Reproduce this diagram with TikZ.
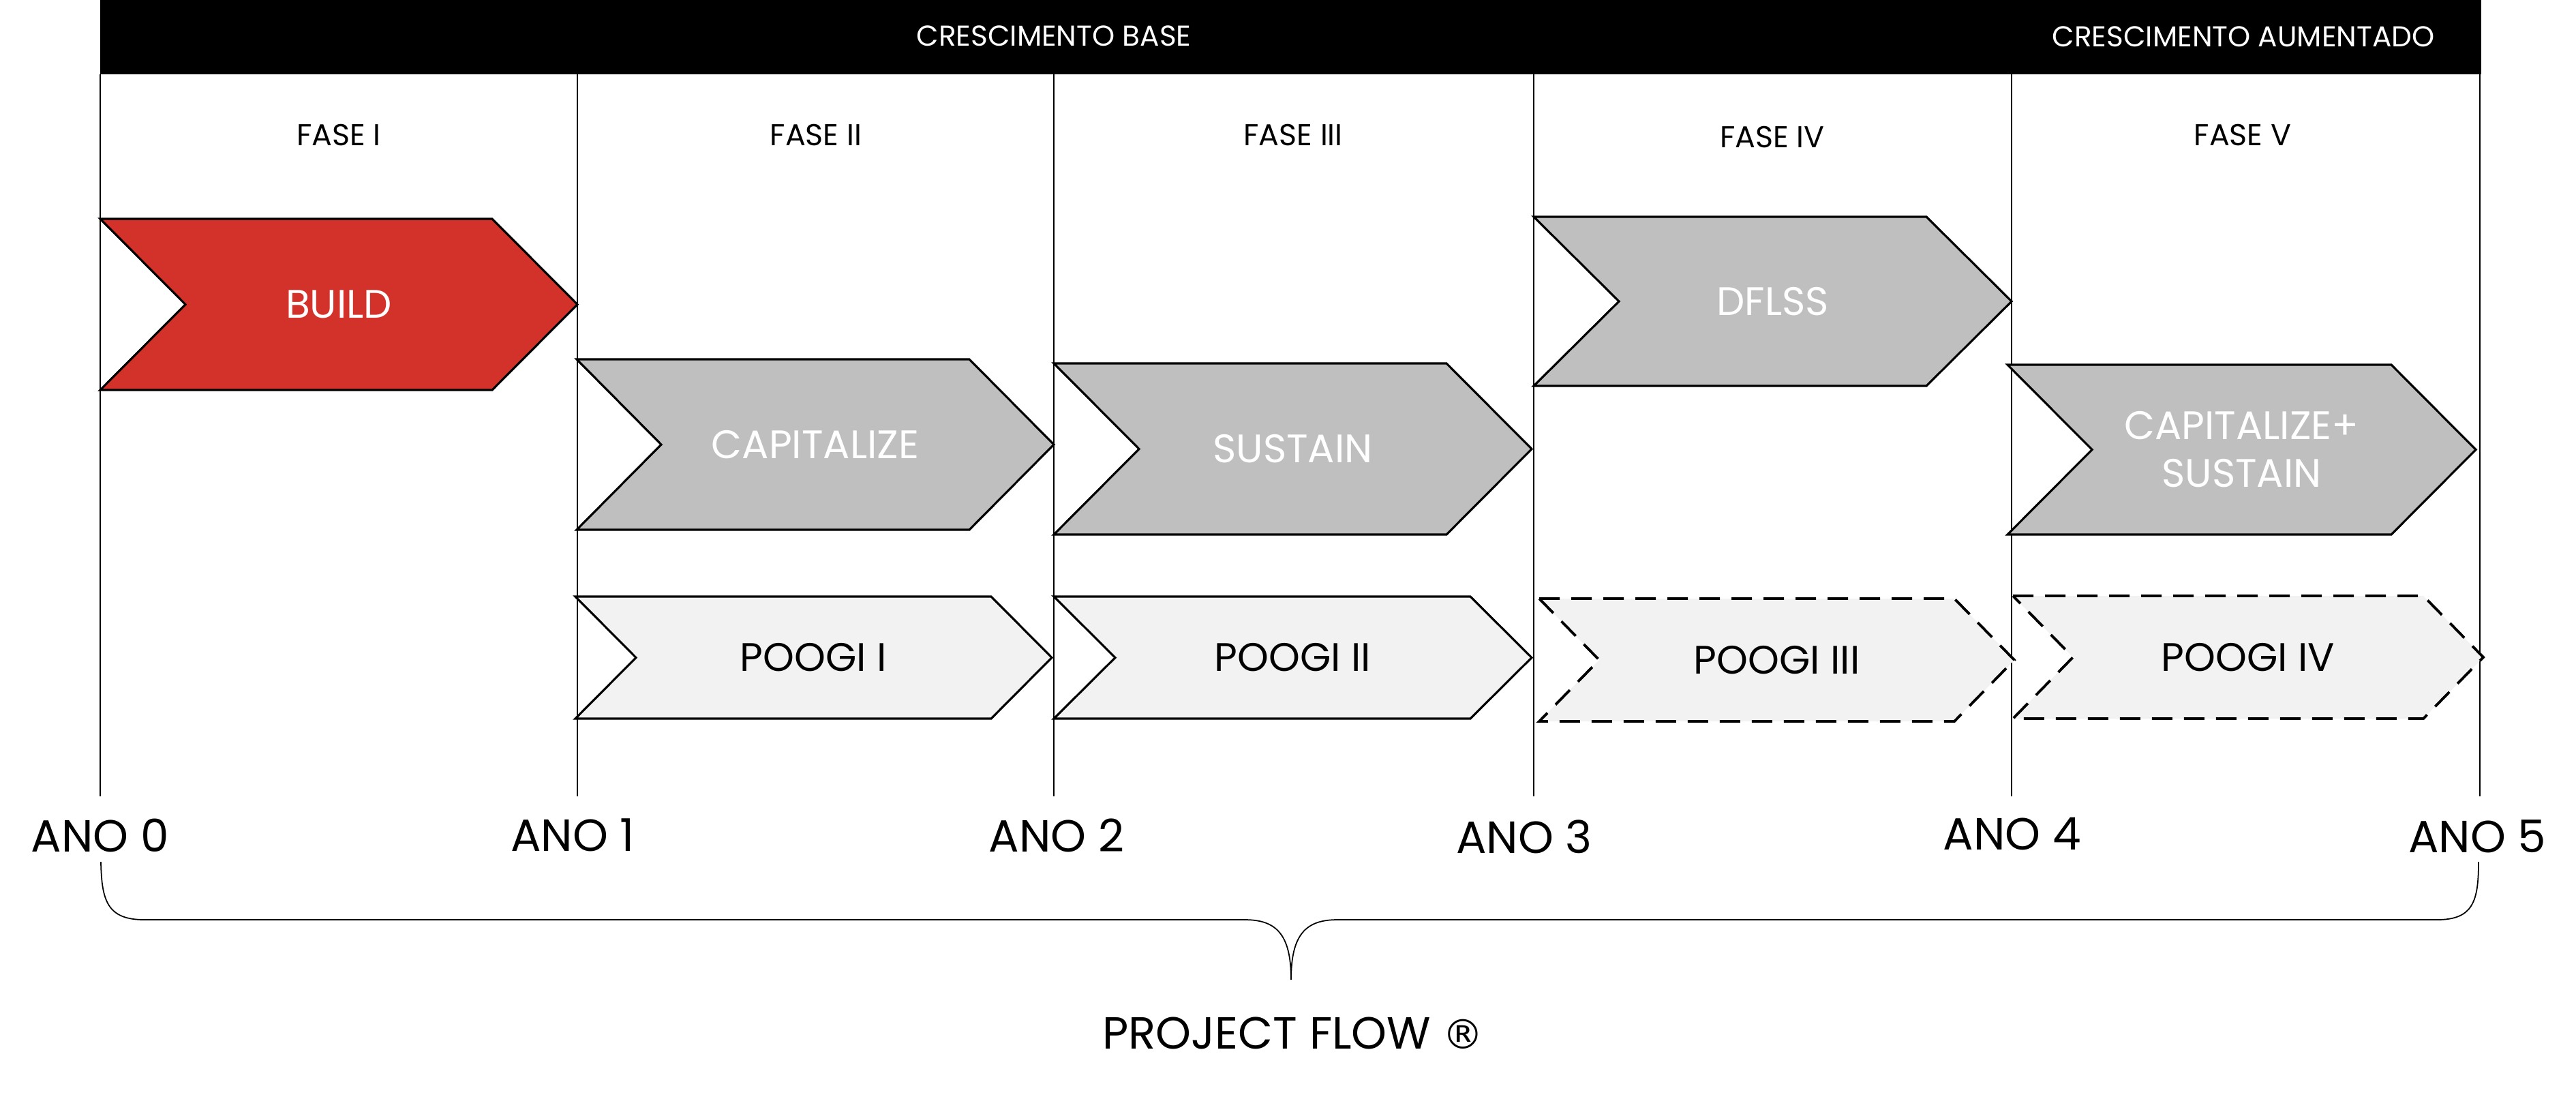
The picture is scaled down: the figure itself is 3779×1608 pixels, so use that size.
\documentclass[tikz,border=0pt]{standalone}
\usepackage{fontspec}
\setmainfont{Poppins}
\newfontfamily\regsymfont{DejaVu Sans}
\definecolor{buildred}{HTML}{D23229}
\definecolor{chevgray}{HTML}{BFBFBF}
\definecolor{chevlight}{HTML}{F2F2F2}
% name, x1, y1, x2, y2, depth, shape style, text style, text
\newcommand\mychev[9]{%
  \path[#7] (#2,#3) -- ({#4-#6},#3) -- (#4,{(#3+#5)/2}) -- ({#4-#6},#5) -- (#2,#5) -- ({#2+#6},{(#3+#5)/2}) -- cycle;
  \node[#8] (#1) at ({(#2+#4)/2},{(#3+#5)/2}) {#9};
}
\begin{document}
\begin{tikzpicture}[x=0.1mm,y=-0.1mm,
  divider/.style={line width=0.5pt,black},
  solidchev/.style={draw=black,line width=0.9pt,line join=miter},
  redchev/.style={solidchev,fill=buildred},
  graychev/.style={solidchev,fill=chevgray},
  lightchev/.style={solidchev,fill=chevlight},
  dashchev/.style={draw=black,line width=1.1pt,fill=chevlight,dash pattern=on 3mm off 1.7mm},
  whitetxt/.style={inner sep=0pt,text=white,font=\fontsize{16.6}{19.9}\selectfont,align=center},
  blacktxt/.style={inner sep=0pt,text=black,font=\fontsize{16.6}{19.9}\selectfont,align=center},
  phasetxt/.style={inner sep=0pt,font=\fontsize{12.6}{15}\selectfont},
  headtxt/.style={inner sep=0pt,text=white,font=\fontsize{12}{14}\selectfont},
  yeartxt/.style={inner sep=0pt,font=\fontsize{18.8}{22}\selectfont},
  bracestyle/.style={line width=0.5pt,black}
]
\useasboundingbox (0,0) rectangle (3779,1608);
% header bar
\fill[black] (147,0) rectangle (3640,109);
\node[headtxt] (hbase) at (1546,53) {CRESCIMENTO BASE};
\node[headtxt] (haum) at (3291,54) {CRESCIMENTO AUMENTADO};
% dividers
\foreach \xx in {147,847,1546,2250,2951,3638} {
  \draw[divider] (\xx,109) -- (\xx,1168);
}
% phase labels
\node[phasetxt] (f1) at (497,198) {FASE I};
\node[phasetxt] (f2) at (1197,198) {FASE II};
\node[phasetxt] (f3) at (1897,198) {FASE III};
\node[phasetxt] (f4) at (2600,201) {FASE IV};
\node[phasetxt] (f5) at (3290,198) {FASE V};
% chevrons
\mychev{build}{147}{321}{847}{572}{125}{redchev}{whitetxt}{BUILD}
\mychev{capit}{846}{527}{1546}{777}{124}{graychev}{whitetxt}{CAPITALIZE}
\mychev{sustain}{1546}{533}{2247}{784}{125}{graychev}{whitetxt}{SUSTAIN}
\mychev{dflss}{2250}{318}{2951}{566}{125}{graychev}{whitetxt}{DFLSS}
\mychev{capsus}{2945}{535}{3632}{784}{124}{graychev}{whitetxt}{CAPITALIZE+\\SUSTAIN}
\mychev{poogi1}{844}{875}{1543}{1054}{89}{lightchev}{blacktxt}{POOGI I}
\mychev{poogi2}{1546}{875}{2247}{1054}{90}{lightchev}{blacktxt}{POOGI II}
\mychev{poogi3}{2258}{878}{2955}{1058}{88}{dashchev}{blacktxt}{POOGI III}
\mychev{poogi4}{2953}{874}{3643}{1054}{88}{dashchev}{blacktxt}{POOGI IV}
% years
\node[yeartxt] (a0) at (147,1225) {ANO 0};
\node[yeartxt] (a1) at (840,1225) {ANO 1};
\node[yeartxt] (a2) at (1550,1225) {ANO 2};
\node[yeartxt] (a3) at (2236,1227) {ANO 3};
\node[yeartxt] (a4) at (2952,1223) {ANO 4};
\node[yeartxt] (a5) at (3634,1227) {ANO 5};
% brace
\draw[bracestyle] (148,1264) .. controls (149,1322) and (158,1349) .. (212,1349)
  -- (1826,1349) .. controls (1872,1349) and (1894,1370) .. (1894,1437)
  .. controls (1894,1370) and (1916,1349) .. (1962,1349)
  -- (3575,1349) .. controls (3628,1349) and (3636,1322) .. (3636,1264);
\node[yeartxt] (pflow) at (1897,1515) {PROJECT FLOW {\regsymfont\fontsize{17}{20}\selectfont ®}};
\end{tikzpicture}
\end{document}
